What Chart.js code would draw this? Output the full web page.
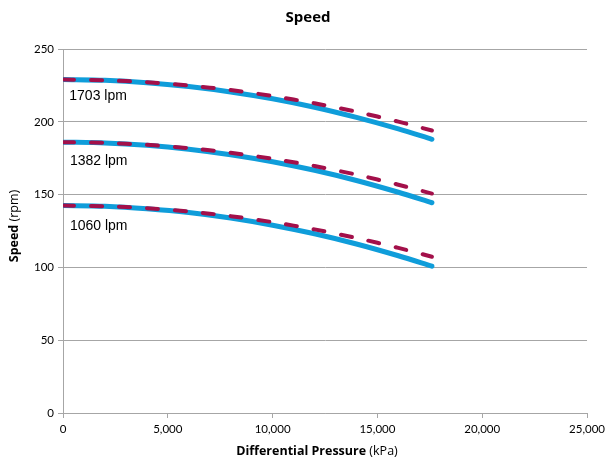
<!DOCTYPE html>
<html>
<head>
<meta charset="utf-8">
<script src="https://cdn.jsdelivr.net/npm/chart.js@4"></script>
<style>
  html, body { margin: 0; padding: 0; background: #fff; }
  #wrap { width: 609px; height: 461px; }
</style>
</head>
<body>
<div id="wrap"><canvas id="speedChart" width="609" height="461"></canvas></div>
<script>
let pressure = [0, 2000, 4000, 6000, 8000, 10000, 12000, 14000, 16000, 17600];

// measured (solid) and predicted (dashed) speed, rpm
let solid1703 = [229, 228.5, 226.9, 224.2, 220.5, 215.8, 210, 203, 195.1, 188];
let dash1703 = [229, 228.5, 227.2, 224.9, 221.8, 217.7, 212.7, 206.9, 200.1, 194];
let solid1382 = [186, 185.5, 183.9, 181.2, 177.4, 172.6, 166.7, 159.7, 151.6, 144.4];
let dash1382 = [186, 185.5, 184.2, 181.9, 178.7, 174.6, 169.6, 163.7, 156.8, 150.7];
let solid1060 = [142.5, 142, 140.3, 137.7, 133.9, 129, 123.1, 116.1, 108, 100.8];
let dash1060 = [142.5, 142, 140.7, 138.4, 135.2, 131.1, 126.1, 120.2, 113.4, 107.3];

// flow labels and where they sit (data coords)
let flowLabels = ['1703 lpm', '1382 lpm', '1060 lpm'];
let labelX = [300, 330, 330];
let labelY = [217.4, 173, 128.3];

const BLUE = '#0F9DDA';
const RED = '#A3104A';
const TITLE_FONT = '"Open Sans", Lato, sans-serif';

function pts(ys) {
    return pressure.map((x, i) => ({ x: x, y: ys[i] }));
}

function solid(ys) {
    return {
        data: pts(ys),
        borderColor: BLUE,
        borderWidth: 5,
        borderCapStyle: 'round',
        pointRadius: 0,
        tension: 0.3,
        showLine: true,
        order: 2,
    };
}

function dashed(ys) {
    return {
        data: pts(ys),
        borderColor: RED,
        borderWidth: 4,
        borderDash: [11, 17],
        borderCapStyle: 'round',
        pointRadius: 0,
        tension: 0.3,
        showLine: true,
        order: 1,
    };
}

// bold part + normal part, centred on cx
function mixedText(c, bold, norm, cx, cy, size) {
    c.font = 'bold ' + size + 'px ' + TITLE_FONT;
    const w1 = c.measureText(bold).width;
    c.font = size + 'px ' + TITLE_FONT;
    const w2 = c.measureText(norm).width;
    const sx = cx - (w1 + w2) / 2;
    c.textAlign = 'left';
    c.font = 'bold ' + size + 'px ' + TITLE_FONT;
    c.fillText(bold, sx, cy);
    c.font = size + 'px ' + TITLE_FONT;
    c.fillText(norm, sx + w1, cy);
}

// title, axis titles and flow labels
const textPlugin = {
    id: 'texts',
    afterDraw(chart) {
        const c = chart.ctx;
        const xs = chart.scales.x, ys = chart.scales.y;
        c.save();
        c.fillStyle = '#000';
        c.textBaseline = 'middle';

        c.font = 'bold 15px ' + TITLE_FONT;
        c.textAlign = 'center';
        c.fillText('Speed', 308, 18);

        mixedText(c, 'Differential Pressure', ' (kPa)', 317, 451, 12.5);

        c.translate(14, 226);
        c.rotate(-Math.PI / 2);
        mixedText(c, 'Speed', ' (rpm)', 0, 0, 12.5);
        c.restore();

        c.save();
        c.fillStyle = '#000';
        c.textBaseline = 'middle';
        c.textAlign = 'left';
        c.font = '14px "Liberation Sans", Arial, sans-serif';
        flowLabels.forEach((t, i) => {
            c.fillText(t, xs.getPixelForValue(labelX[i]), ys.getPixelForValue(labelY[i]));
        });
        c.restore();
    }
};

let ctx = document.getElementById('speedChart').getContext('2d');

let speedChart = new Chart(ctx, {
    type: 'scatter',
    data: {
        datasets: [
            solid(solid1703), solid(solid1382), solid(solid1060),
            dashed(dash1703), dashed(dash1382), dashed(dash1060),
        ]
    },
    options: {
        responsive: false,
        animation: false,
        layout: {
            padding: { top: 49, right: 21, left: 0, bottom: 0 }
        },
        plugins: {
            legend: { display: false },
            tooltip: { enabled: false },
        },
        scales: {
            x: {
                type: 'linear',
                min: 0,
                max: 25000,
                ticks: {
                    stepSize: 5000,
                    color: '#000',
                    padding: 4,
                    font: { family: 'Lato, "Open Sans", sans-serif', size: 11.5 },
                    callback: (v) => v.toLocaleString('en-US'),
                },
                grid: {
                    drawOnChartArea: false,
                    color: '#A6A6A6',
                    tickLength: 5,
                },
                border: { color: '#A6A6A6' },
                afterFit(scale) { scale.height = 48; },
            },
            y: {
                min: 0,
                max: 250,
                ticks: {
                    stepSize: 50,
                    color: '#000',
                    padding: 4,
                    font: { family: 'Lato, "Open Sans", sans-serif', size: 11.5 },
                },
                grid: {
                    color: '#A6A6A6',
                    tickLength: 5,
                },
                border: { color: '#A6A6A6' },
                afterFit(scale) { scale.width = 63; },
            }
        }
    },
    plugins: [textPlugin]
});
</script>
</body>
</html>
